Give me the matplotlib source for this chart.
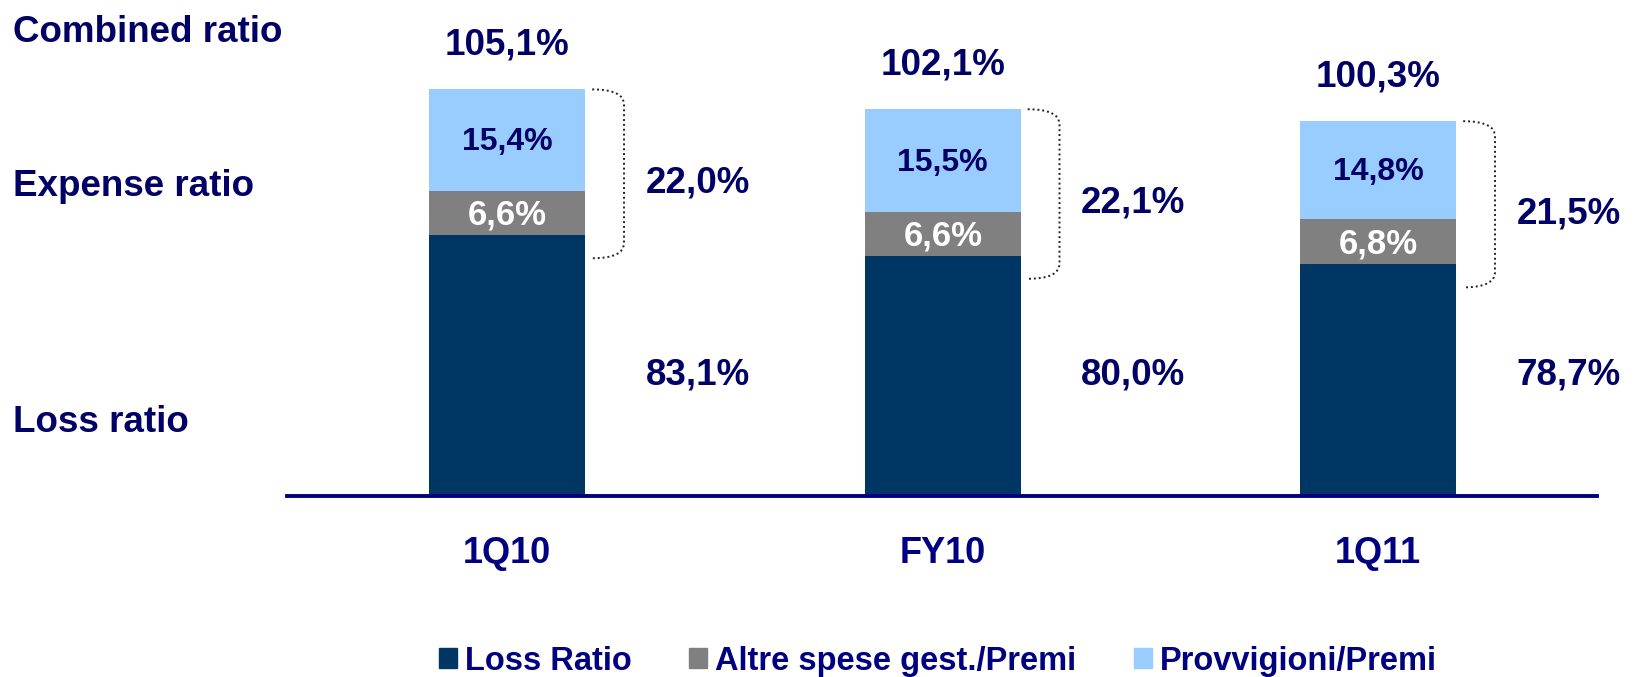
"""Combined ratio: barre impilate con loss ratio ed expense ratio"""
import matplotlib
matplotlib.use("Agg")
import matplotlib.pyplot as plt
from matplotlib.path import Path
from matplotlib.patches import PathPatch, Patch

# Dati
periodi = ["1Q10", "FY10", "1Q11"]
loss_ratio = [83.1, 80.0, 78.7]
altre_spese = [6.6, 6.6, 6.8]
provvigioni = [15.4, 15.5, 14.8]
expense_ratio = [22.0, 22.1, 21.5]
combined_ratio = [105.1, 102.1, 100.3]

etichette_serie = ["Loss Ratio", "Altre spese gest./Premi", "Provvigioni/Premi"]
colori = ["#003663", "#808080", "#99CCFF"]
navy = "#000066"
navy_tick = "#000080"

plt.rcParams["font.family"] = ["Liberation Sans", "DejaVu Sans"]
plt.rcParams["font.weight"] = "bold"


def fmt(v):
    return f"{v:.1f}".replace(".", ",") + "%"


fig = plt.figure(figsize=(16.35, 6.77), dpi=100)
ax = fig.add_axes([0.1755, 0.2674, 0.8012, 0.7326])

x = list(range(len(periodi)))
w = 0.358

# Barre impilate
base2 = loss_ratio
base3 = [a + b for a, b in zip(loss_ratio, altre_spese)]
ax.bar(x, loss_ratio, w, color=colori[0])
ax.bar(x, altre_spese, w, bottom=base2, color=colori[1])
ax.bar(x, provvigioni, w, bottom=base3, color=colori[2])

ax.set_xlim(-0.506, 2.502)
ax.set_ylim(43.7, 118.6)

# piccolo spostamento verso il basso per centrare otticamente le cifre
dy = 0.6

for i in x:
    # etichette interne
    ax.text(i, base2[i] + altre_spese[i] / 2 - dy / 2, fmt(altre_spese[i]), ha="center", va="center",
            fontsize=25, color="white", fontweight="bold")
    ax.text(i, base3[i] + provvigioni[i] / 2 - dy / 2, fmt(provvigioni[i]), ha="center", va="center",
            fontsize=23, color=navy, fontweight="bold")
    # combined ratio sopra la barra
    ax.text(i, combined_ratio[i] + 7.3 - dy, fmt(combined_ratio[i]), ha="center", va="center",
            fontsize=26.5, color=navy, fontweight="bold")

    # parentesi tratteggiata per l'expense ratio
    x0, x1 = i + 0.195, i + 0.268
    y_top, y_bot = combined_ratio[i], loss_ratio[i] - 3.5
    r = 2.3
    verts = [(x0, y_top), (x1, y_top), (x1, y_top - r), (x1, y_bot + r), (x1, y_bot), (x0, y_bot)]
    codes = [Path.MOVETO, Path.CURVE3, Path.CURVE3, Path.LINETO, Path.CURVE3, Path.CURVE3]
    ax.add_patch(PathPatch(Path(verts, codes), fill=False, linestyle=(0, (1, 1.5)),
                           lw=1.4, edgecolor="#222222", clip_on=False))

    ax.text(i + 0.437, (y_top + y_bot) / 2 - 0.8 - dy, fmt(expense_ratio[i]), ha="center", va="center",
            fontsize=26.5, color=navy, fontweight="bold")
    ax.text(i + 0.437, 62.6 - dy, fmt(loss_ratio[i]), ha="center", va="center",
            fontsize=26.5, color=navy, fontweight="bold")

# Assi
for s in ["top", "right", "left"]:
    ax.spines[s].set_visible(False)
ax.spines["bottom"].set_color(navy_tick)
ax.spines["bottom"].set_linewidth(2.8)
ax.set_yticks([])
ax.set_xticks(x)
ax.set_xticklabels(periodi, fontsize=26, fontweight="bold", color=navy_tick)
ax.tick_params(axis="x", length=0, pad=29)

# Etichette a sinistra
fig.text(0.008, 1 - 32 / 677, "Combined ratio", ha="left", va="center",
         fontsize=26.5, color=navy, fontweight="bold")
fig.text(0.008, 1 - 186 / 677, "Expense ratio", ha="left", va="center",
         fontsize=26.5, color=navy, fontweight="bold")
fig.text(0.008, 1 - 423 / 677, "Loss ratio", ha="left", va="center",
         fontsize=26.5, color=navy, fontweight="bold")

# Legenda
handles = [Patch(color=c) for c in colori]
leg = fig.legend(handles, etichette_serie, loc="center", bbox_to_anchor=(0.5737, 0.0236),
                 ncol=3, frameon=False, fontsize=23.5, handlelength=0.55, handleheight=0.58,
                 handletextpad=0.25, columnspacing=1.75, borderpad=0, borderaxespad=0)
for t in leg.get_texts():
    t.set_color(navy_tick)
    t.set_fontweight("bold")

fig.savefig("out.png", dpi=100)
